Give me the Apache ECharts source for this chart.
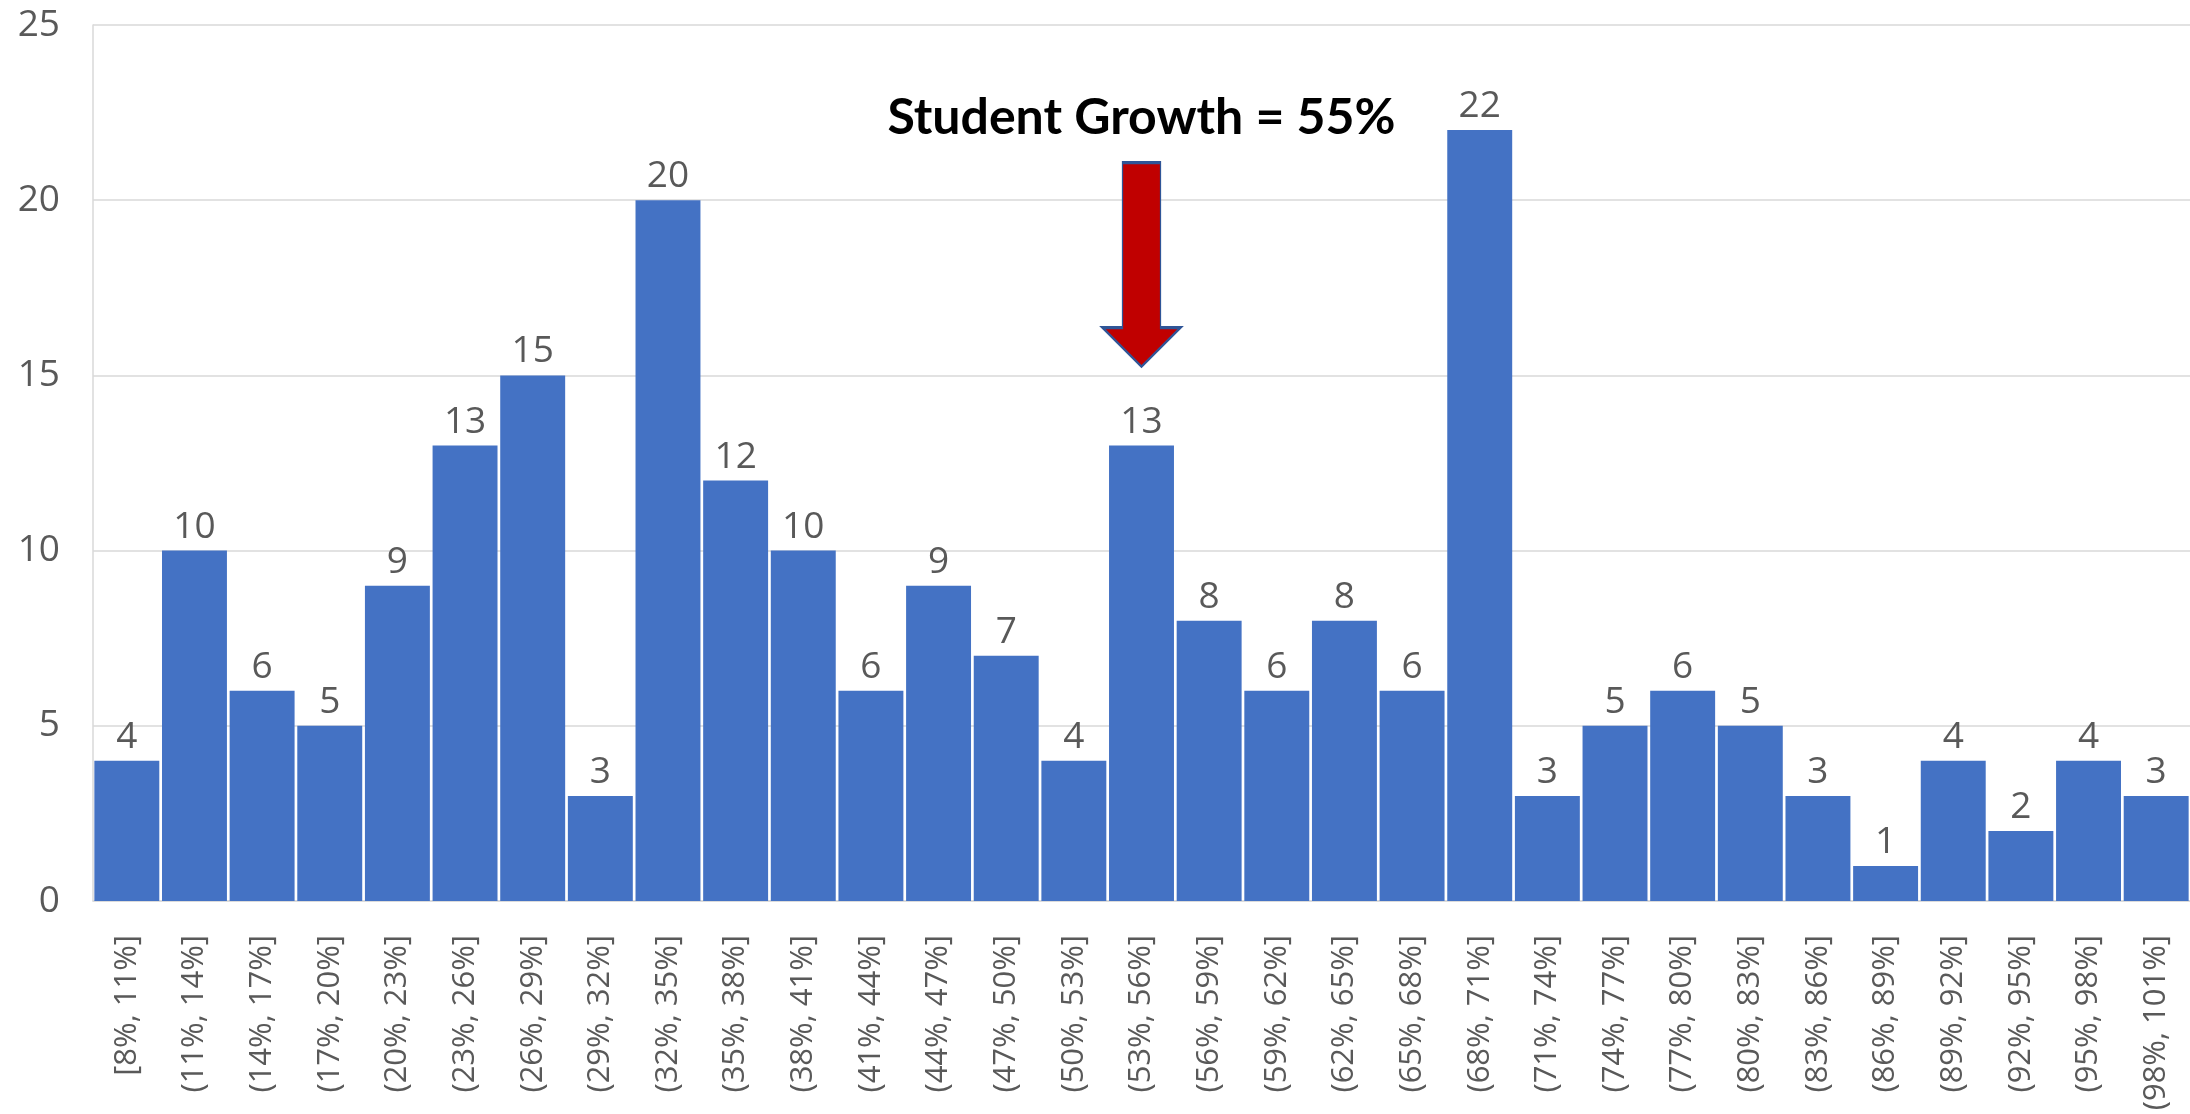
<!DOCTYPE html>
<html>
<head>
<meta charset="utf-8">
<title>Student Growth Distribution</title>
<script src="https://cdn.jsdelivr.net/npm/echarts@6/dist/echarts.min.js"></script>
<style>
  html, body { margin: 0; padding: 0; background: #ffffff; }
  #chart { width: 2190px; height: 1114px; }
</style>
</head>
<body>
<div id="chart"></div>
<script>
// Growth buckets (3-point wide bins)
const categories = [
  '[8%, 11%]', '(11%, 14%]', '(14%, 17%]', '(17%, 20%]', '(20%, 23%]',
  '(23%, 26%]', '(26%, 29%]', '(29%, 32%]', '(32%, 35%]', '(35%, 38%]',
  '(38%, 41%]', '(41%, 44%]', '(44%, 47%]', '(47%, 50%]', '(50%, 53%]',
  '(53%, 56%]', '(56%, 59%]', '(59%, 62%]', '(62%, 65%]', '(65%, 68%]',
  '(68%, 71%]', '(71%, 74%]', '(74%, 77%]', '(77%, 80%]', '(80%, 83%]',
  '(83%, 86%]', '(86%, 89%]', '(89%, 92%]', '(92%, 95%]', '(95%, 98%]',
  '(98%, 101%]'
];

// Number of students in each bucket
const counts = [
  4, 10, 6, 5, 9, 13, 15, 3, 20, 12,
  10, 6, 9, 7, 4, 13, 8, 6, 8, 6,
  22, 3, 5, 6, 5, 3, 1, 4, 2, 4,
  3
];

// Y axis scale
const yTicks = { min: 0, max: 25, interval: 5 };

// Highlighted bucket and the callout text above it
const highlightBucket = '(53%, 56%]';
const highlightTipValue = 15.25;
const calloutText = 'Student Growth = 55%';

const labelFont = '"Open Sans", "Noto Sans", sans-serif';

const chart = echarts.init(document.getElementById('chart'), null, { renderer: 'canvas' });

chart.setOption({
  animation: false,
  backgroundColor: '#ffffff',
  grid: { left: 93, right: -5, top: 25, bottom: 213, containLabel: false },
  xAxis: {
    type: 'category',
    data: categories,
    axisLine: { show: true, lineStyle: { color: '#d9d9d9', width: 1.5 } },
    axisTick: { show: false },
    axisLabel: {
      rotate: 90,
      interval: 0,
      margin: 34,
      color: '#595959',
      fontFamily: labelFont,
      fontSize: 31
    }
  },
  yAxis: {
    type: 'value',
    min: yTicks.min,
    max: yTicks.max,
    interval: yTicks.interval,
    axisLine: { show: true, lineStyle: { color: '#d9d9d9', width: 1.5 } },
    axisTick: { show: false },
    splitLine: { show: true, lineStyle: { color: '#d9d9d9', width: 1.5 } },
    axisLabel: {
      margin: 33,
      color: '#595959',
      fontFamily: labelFont,
      fontSize: 37
    }
  },
  series: [{
    type: 'bar',
    data: counts,
    barCategoryGap: '4%',
    itemStyle: { color: '#4472C4' },
    label: {
      show: true,
      position: 'top',
      distance: 5,
      color: '#595959',
      fontFamily: labelFont,
      fontSize: 37
    },
    emphasis: { disabled: true },
    markPoint: {
      silent: true,
      symbol: 'path://M20,0 L58,0 L58,165 L78,165 L39,204 L0,165 L20,165 Z',
      symbolSize: [78, 204],
      symbolOffset: [0, '-50%'],
      symbolKeepAspect: false,
      itemStyle: { color: '#C00000', borderColor: '#2F5597', borderWidth: 2 },
      label: {
        show: true,
        position: 'top',
        distance: 18,
        formatter: calloutText,
        color: '#000000',
        fontFamily: 'Lato, "Open Sans", sans-serif',
        fontWeight: 'bold',
        fontSize: 50
      },
      data: [{ coord: [highlightBucket, highlightTipValue] }]
    }
  }]
});
</script>
</body>
</html>
